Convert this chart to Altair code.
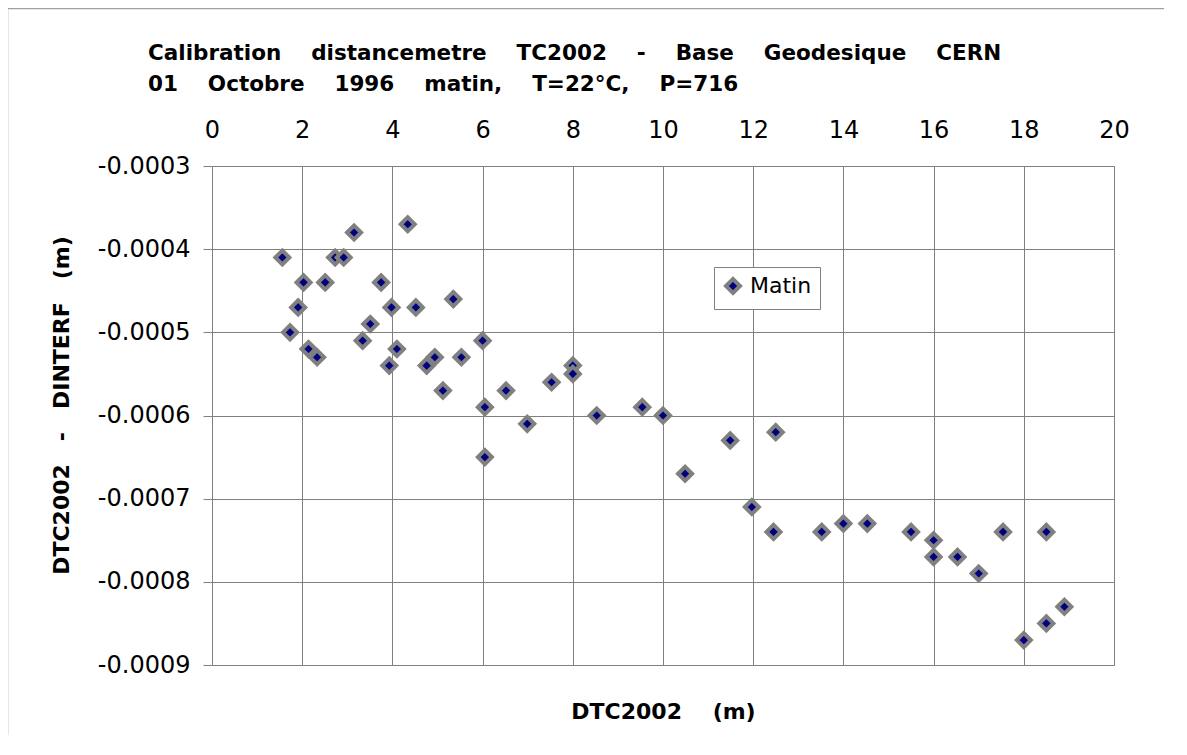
import altair as alt
import pandas as pd

# Data
dist_m = [1.56, 2.03, 2.51, 1.91, 1.73, 2.14, 2.33, 2.73, 2.92, 3.15,
          3.51, 3.34, 3.75, 3.98, 3.93, 4.10, 4.34, 4.52, 4.76, 4.94,
          5.12, 5.35, 5.53, 6.00, 6.05, 6.05, 6.52, 6.99, 7.53, 8.00,
          8.00, 8.53, 9.54, 10.0, 10.49, 11.49, 12.5, 11.97, 12.45, 13.52,
          14.0, 14.53, 15.5, 16.0, 16.0, 16.53, 17.0, 17.54, 18.5, 18.0,
          18.5, 18.9]
diff_m = [-0.00041, -0.00044, -0.00044, -0.00047, -0.00050, -0.00052, -0.00053, -0.00041, -0.00041, -0.00038,
          -0.00049, -0.00051, -0.00044, -0.00047, -0.00054, -0.00052, -0.00037, -0.00047, -0.00054, -0.00053,
          -0.00057, -0.00046, -0.00053, -0.00051, -0.00059, -0.00065, -0.00057, -0.00061, -0.00056, -0.00054,
          -0.00055, -0.00060, -0.00059, -0.00060, -0.00067, -0.00063, -0.00062, -0.00071, -0.00074, -0.00074,
          -0.00073, -0.00073, -0.00074, -0.00075, -0.00077, -0.00077, -0.00079, -0.00074, -0.00074, -0.00087,
          -0.00085, -0.00083]
series_name = "Matin"
x_ticks = [0, 2, 4, 6, 8, 10, 12, 14, 16, 18, 20]
y_ticks = [-0.0003, -0.0004, -0.0005, -0.0006, -0.0007, -0.0008, -0.0009]

NB = "\u00a0"
gap = NB * 4
title_lines = [
    gap.join(["Calibration", "distancemetre", "TC2002", "-", "Base", "Geodesique", "CERN"]),
    gap.join(["01", "Octobre", "1996", "matin,", "T=22°C,", "P=716"]),
]
x_title = "DTC2002" + NB * 4 + "(m)"
y_title = (NB * 3).join(["DTC2002", "-", "DINTERF", "(m)"])

df = pd.DataFrame({"d": dist_m, "diff": diff_m, "serie": [series_name] * len(dist_m)})

GRAY = "#808080"
FONT = "DejaVu Sans"

points = alt.Chart(df).mark_point(
    shape="diamond", filled=True, size=196, stroke=GRAY, strokeWidth=4, opacity=1
).encode(
    x=alt.X("d:Q", scale=alt.Scale(domain=[0, 20], nice=False, zero=False),
            axis=alt.Axis(orient="top", values=x_ticks, title=None, grid=True,
                          ticks=False, tickSize=0, domain=False, labelFlush=False,
                          labelFont=FONT, labelFontSize=24, labelColor="black",
                          labelBaseline="alphabetic", labelPadding=29,
                          gridColor=GRAY, gridWidth=1, gridOpacity=1)),
    y=alt.Y("diff:Q", scale=alt.Scale(domain=[-0.0009, -0.0003], nice=False, zero=False),
            axis=alt.Axis(values=y_ticks, title=y_title, grid=True, labelFlush=False,
                          labelExpr="'-' + format(abs(datum.value), '.4f')",
                          ticks=True, tickSize=9, tickColor=GRAY, tickWidth=1,
                          domain=False, labelFont=FONT, labelFontSize=24,
                          labelColor="black", labelPadding=13,
                          gridColor=GRAY, gridWidth=1, gridOpacity=1,
                          titleFont=FONT, titleFontSize=22, titleFontWeight="bold",
                          titleColor="black", titleAngle=-90, titleAlign="center",
                          titleBaseline="alphabetic", titleX=-144, titleY=239)),
    color=alt.Color("serie:N", scale=alt.Scale(domain=[series_name], range=["#000080"]),
                    legend=alt.Legend(title=None, orient="none", legendX=502, legendY=101,
                                      symbolType="diamond", symbolSize=196,
                                      symbolStrokeColor=GRAY, symbolStrokeWidth=4,
                                      labelFont=FONT, labelFontSize=22, labelColor="black",
                                      labelOffset=6, padding=8, strokeColor=GRAY,
                                      fillColor="white", cornerRadius=0)),
)

# bottom axis carrying only the x title
xtitle_layer = alt.Chart(df).mark_point(opacity=0).encode(
    x=alt.X("d:Q", scale=alt.Scale(domain=[0, 20], nice=False, zero=False),
            axis=alt.Axis(orient="bottom", title=x_title, labels=False, ticks=False,
                          domain=False, grid=False, titleFont=FONT, titleFontSize=22,
                          titleFontWeight="bold", titleColor="black",
                          titleBaseline="alphabetic", titleY=53)),
)

frame_df = alt.Data(values=[{"k": 1}])
outer_v = alt.Chart(frame_df).mark_rule(color="#a0a0a0", strokeWidth=1.5).encode(
    x=alt.value(-204.5), y=alt.value(-158), y2=alt.value(570))
outer_h = alt.Chart(frame_df).mark_rule(color="#a0a0a0", strokeWidth=1.5).encode(
    x=alt.value(-205), x2=alt.value(952), y=alt.value(-157.5))

chart = alt.layer(points, xtitle_layer, outer_v, outer_h).resolve_scale(x="shared").properties(
    width=902, height=499,
    autosize=alt.AutoSizeParams(type="none"),
    padding={"left": 204, "top": 158, "right": 50, "bottom": 70},
    title=alt.TitleParams(title_lines, anchor="start", frame="group", dx=-64,
                          font=FONT, fontSize=21.5, fontWeight="bold", color="black",
                          lineHeight=31, offset=-105, baseline="alphabetic"),
).configure_view(stroke=GRAY, strokeWidth=3).configure(background="white")

chart.save("out.html", embed_options={"renderer": "svg", "actions": False})
